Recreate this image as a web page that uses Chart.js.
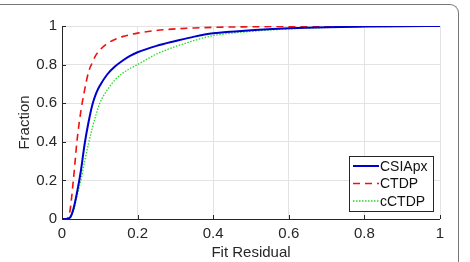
<!DOCTYPE html>
<html>
<head>
<meta charset="utf-8">
<script src="https://cdn.jsdelivr.net/npm/chart.js@4/dist/chart.umd.min.js"></script>
<style>
  html, body { margin: 0; padding: 0; background: #fff; }
  #wrap { position: relative; width: 470px; height: 262px; overflow: hidden; }
  #frame { position: absolute; left: -20px; top: 4px; width: 478px; height: 300px;
           border-top: 1.5px solid #777; border-right: 1.5px solid #777; border-top-right-radius: 9px; }
  canvas { position: absolute; left: 0; top: 0; }
</style>
</head>
<body>
<div id="wrap">
  <div id="frame"></div>
  <canvas id="c" width="470" height="262"></canvas>
</div>
<script>
// shared residual grid
const residual = [0, 0.01, 0.02, 0.03, 0.04, 0.05, 0.06, 0.07, 0.08, 0.09, 0.1, 0.12, 0.14, 0.16, 0.18, 0.2,
                  0.25, 0.3, 0.35, 0.4, 0.5, 0.6, 0.7, 0.8, 0.9, 1.0];
const csiapx = [0, 0, 0.005, 0.05, 0.14, 0.25, 0.39, 0.5, 0.59, 0.65, 0.69, 0.75, 0.79, 0.82, 0.845, 0.864,
                0.897, 0.922, 0.945, 0.962, 0.978, 0.988, 0.994, 0.997, 0.999, 1];
const ctdp = [0, 0, 0.03, 0.2, 0.41, 0.56, 0.67, 0.76, 0.81, 0.85, 0.875, 0.91, 0.93, 0.945, 0.955, 0.963,
              0.977, 0.985, 0.99, 0.993, 0.996, 0.998, 0.999, 1, 1, 1];
const cctdp = [0, 0, 0.003, 0.04, 0.12, 0.2, 0.3, 0.39, 0.47, 0.54, 0.6, 0.67, 0.72, 0.755, 0.78, 0.8,
               0.855, 0.893, 0.925, 0.95, 0.972, 0.985, 0.992, 0.996, 0.998, 1];
const seriesNames = ['CSIApx', 'CTDP', 'cCTDP'];
const xTicks = [0, 0.2, 0.4, 0.6, 0.8, 1];
const yTicks = [0, 0.2, 0.4, 0.6, 0.8, 1];

const FONT = '"Liberation Sans", Arial, sans-serif';
const toPts = ys => residual.map((x, i) => ({x, y: ys[i]}));

const styles = [
    {color: '#0000cc', width: 2, dash: []},
    {color: '#ee1111', width: 1.6, dash: [7, 5]},
    {color: '#22dd22', width: 1.3, dash: [1.5, 1.5]}
];

const datasets = [csiapx, ctdp, cctdp].map((ys, i) => ({
    label: seriesNames[i],
    data: toPts(ys),
    borderColor: styles[i].color,
    borderWidth: styles[i].width,
    borderDash: styles[i].dash,
    showLine: true,
    pointRadius: 0,
    cubicInterpolationMode: 'monotone'
}));

const axisBox = {
    id: 'axisBox',
    afterDraw(chart) {
        const {ctx, chartArea: a, scales: {x, y}} = chart;
        ctx.save();
        ctx.strokeStyle = '#262626';
        ctx.lineWidth = 1;
        ctx.beginPath();
        ctx.moveTo(a.left + 0.5, a.top);
        ctx.lineTo(a.left + 0.5, a.bottom + 0.5);
        ctx.lineTo(a.right, a.bottom + 0.5);
        xTicks.forEach(v => {
            const px = Math.round(x.getPixelForValue(v)) + 0.5;
            ctx.moveTo(px, a.bottom);
            ctx.lineTo(px, a.bottom - 4);
        });
        yTicks.forEach(v => {
            const py = Math.round(y.getPixelForValue(v)) + 0.5;
            ctx.moveTo(a.left, py);
            ctx.lineTo(a.left + 4, py);
        });
        ctx.stroke();

        // legend box
        const lx = 349, ly = 156, lw = 84, lh = 55;
        ctx.fillStyle = '#fff';
        ctx.fillRect(lx, ly, lw, lh);
        ctx.strokeRect(lx + 0.5, ly + 0.5, lw, lh);
        ctx.font = '14px ' + FONT;
        ctx.textBaseline = 'middle';
        seriesNames.forEach((name, i) => {
            const yy = ly + 10 + i * 17.5;
            ctx.strokeStyle = styles[i].color;
            ctx.lineWidth = styles[i].width;
            ctx.setLineDash(styles[i].dash);
            ctx.beginPath();
            ctx.moveTo(lx + 4, yy);
            ctx.lineTo(lx + 30, yy);
            ctx.stroke();
            ctx.setLineDash([]);
            ctx.fillStyle = '#111';
            ctx.fillText(name, lx + 31, yy + 1);
        });
        ctx.restore();
    }
};

new Chart(document.getElementById('c').getContext('2d'), {
    type: 'scatter',
    data: {datasets},
    plugins: [axisBox],
    options: {
        responsive: false,
        animation: false,
        layout: {padding: {left: 0, right: 30, top: 26, bottom: 0}},
        plugins: {legend: {display: false}, tooltip: {enabled: false}},
        scales: {
            x: {
                type: 'linear', min: 0, max: 1,
                afterBuildTicks: s => { s.ticks = xTicks.map(value => ({value})); },
                afterFit: s => { s.height = 43; },
                grid: {color: '#e3e3e3', drawTicks: false},
                border: {display: false},
                ticks: {padding: 6, color: '#262626', font: {family: FONT, size: 15}, callback: v => String(v)},
                title: {display: true, text: 'Fit Residual', color: '#262626', padding: {top: 0, bottom: 0},
                        font: {family: FONT, size: 15}}
            },
            y: {
                min: 0, max: 1,
                afterBuildTicks: s => { s.ticks = yTicks.map(value => ({value})); },
                afterFit: s => { s.width = 62; },
                grid: {color: '#e3e3e3', drawTicks: false},
                border: {display: false},
                ticks: {padding: 5, color: '#262626', font: {family: FONT, size: 15}, callback: v => String(v)},
                title: {display: true, text: 'Fraction', color: '#262626', padding: {top: 16, bottom: 0},
                        font: {family: FONT, size: 15}}
            }
        }
    }
});
</script>
</body>
</html>
